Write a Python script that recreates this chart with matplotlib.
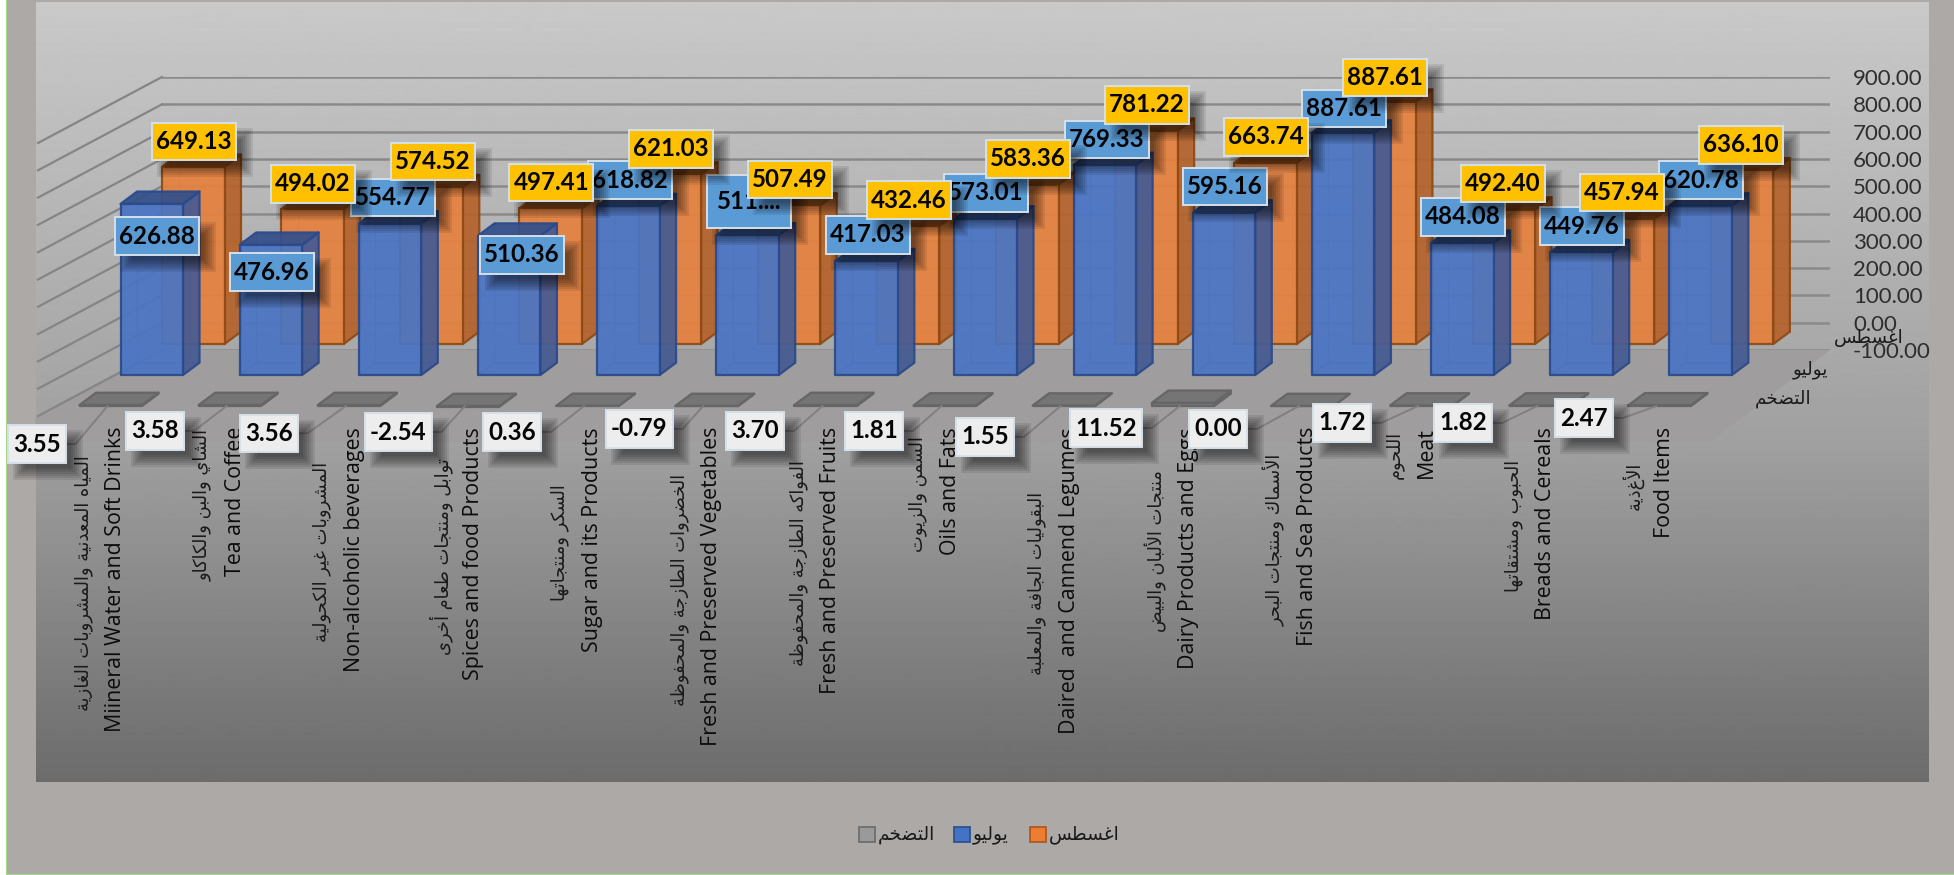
import numpy as np
import matplotlib
matplotlib.use("Agg")
import matplotlib.pyplot as plt
from matplotlib.patches import Polygon, Rectangle

# -----------------------------
# 1. DATA
# -----------------------------
categories_en = ["Miineral Water and Soft Drinks", "Tea and Coffee", "Non-alcoholic beverages",
                 "Spices and food Products", "Sugar and its Products", "Fresh and Preserved Vegetables",
                 "Fresh and Preserved Fruits", "Oils and Fats", "Daired  and Cannend Legumes",
                 "Dairy Products and Eggs", "Fish and Sea Products", "Meat", "Breads and Cereals", "Food Items"]
categories_ar = ["المياه المعدنية والمشروبات الغازية", "الشاي والبن والكاكاو", "المشروبات غير الكحولية",
                 "توابل ومنتجات طعام أخرى", "السكر ومنتجاتها", "الخضروات الطازجة والمحفوظة",
                 "الفواكه الطازجة والمحفوظة", "السمن والزيوت", "البقوليات الجافة والمعلبة",
                 "منتجات الألبان والبيض", "الأسماك ومنتجات البحر", "اللحوم", "الحبوب ومشتقاتها", "الأغذية"]
august = [649.13, 494.02, 574.52, 497.41, 621.03, 507.49, 432.46, 583.36, 781.22, 663.74, 887.61, 492.40, 457.94, 636.10]
july = [626.88, 476.96, 554.77, 510.36, 618.82, 511.53, 417.03, 573.01, 769.33, 595.16, 887.61, 484.08, 449.76, 620.78]
inflation = [3.55, 3.58, 3.56, -2.54, 0.36, -0.79, 3.70, 1.81, 1.55, 11.52, 0.00, 1.72, 1.82, 2.47]
name_august = "اغسطس"
name_july = "يوليو"
name_inflation = "التضخم"
y_ticks = [-100, 0, 100, 200, 300, 400, 500, 600, 700, 800, 900]

# where the data labels were dragged to, in pixels of the picture
august_label_x = [193.5, 313, 432.5, 551.3, 670.6, 790, 909, 1028, 1147, 1266, 1384.6, 1503, 1622, 1741]
august_label_y = [141.3, 183.8, 161.7, 182.7, 149, 179.5, 200, 159, 105, 137, 77.5, 183.7, 192.7, 145]
july_label_x = [156.7, 272, 393, 522, 629.5, 749, 868, 986, 1106.6, 1225, 1344, 1463, 1582, 1701]
july_label_y = [236, 272, 197.7, 255, 180, 201.5, 235, 193, 139.5, 186.3, 108.3, 217, 226, 180]
infl_label_x = [36.6, 155, 268.6, 398, 512, 639, 755, 874, 985, 1106, 1218, 1342, 1463, 1584]
infl_label_y = [444, 431, 433.3, 432, 432, 429, 431, 431, 437, 428, 429, 423, 423, 418]

# -----------------------------
# 2. ARABIC SHAPING (matplotlib does not join letters or run right to left)
# -----------------------------
FORMS = {"أ": (0xFE83, 2), "ا": (0xFE8D, 2), "ب": (0xFE8F, 4), "ة": (0xFE93, 2), "ت": (0xFE95, 4),
         "ج": (0xFE9D, 4), "ح": (0xFEA1, 4), "خ": (0xFEA5, 4), "د": (0xFEA9, 2), "ر": (0xFEAD, 2),
         "ز": (0xFEAF, 2), "س": (0xFEB1, 4), "ش": (0xFEB5, 4), "ض": (0xFEBD, 4), "ط": (0xFEC1, 4),
         "ظ": (0xFEC5, 4), "ع": (0xFEC9, 4), "غ": (0xFECD, 4), "ف": (0xFED1, 4), "ق": (0xFED5, 4),
         "ك": (0xFED9, 4), "ل": (0xFEDD, 4), "م": (0xFEE1, 4), "ن": (0xFEE5, 4), "ه": (0xFEE9, 4),
         "و": (0xFEED, 2), "ى": (0xFEEF, 2), "ي": (0xFEF1, 4)}
LAM_ALEF = {"ا": 0xFEFB, "أ": 0xFEF7}


def shape(text):
    out = []
    i = 0
    prev_joins = False
    while i < len(text):
        c = text[i]
        if c not in FORMS:
            out.append(c)
            prev_joins = False
            i += 1
            continue
        if c == "ل" and i + 1 < len(text) and text[i + 1] in LAM_ALEF:
            out.append(chr(LAM_ALEF[text[i + 1]] + (1 if prev_joins else 0)))
            prev_joins = False
            i += 2
            continue
        base, n = FORMS[c]
        next_joins = n == 4 and i + 1 < len(text) and text[i + 1] in FORMS
        if prev_joins and next_joins:
            g = base + 3
        elif next_joins:
            g = base + 2
        elif prev_joins:
            g = base + 1
        else:
            g = base
        out.append(chr(g))
        prev_joins = n == 4
        i += 1
    return "".join(reversed(out))


# -----------------------------
# 3. FIGURE, BACKGROUND, WALLS
# -----------------------------
W_PX, H_PX = 1954, 875
WALL_L, WALL_R, Y_900, Y_M100 = 162, 1830, 77, 350
PX = (WALL_R - WALL_L) / 14         # pixels per category
PY = (Y_M100 - Y_900) / 1000        # pixels per unit
DEPTH_X, DEPTH_Y = 16.5, 12.3
BAR_W = 62.5 / PX
LABEL_FONT = "Lato"

fig = plt.figure(figsize=(W_PX / 100, H_PX / 100), dpi=100, facecolor="#ADA9A7")
bg = fig.add_axes([0, 0, 1, 1], zorder=0)
bg.set_xlim(0, W_PX)
bg.set_ylim(H_PX, 0)
bg.axis("off")
pix = bg.transData

# white strip and thin green rule of the screenshot
bg.add_patch(Rectangle((0, 0), 6, H_PX, color="white", lw=0))
bg.add_patch(Rectangle((5.5, 0), 1.5, H_PX, color="#A5D88F", lw=0))
bg.add_patch(Rectangle((6, 873.5), W_PX, 2, color="#A5D88F", lw=0))

rows = np.arange(2, 783)
shade = np.interp(rows, [2, 443, 782], [201, 160, 108]) / 255
bg.imshow(shade[:, None], cmap="gray", vmin=0, vmax=1, extent=[35.5, 1928, 782, 2], aspect="auto", zorder=1)
bg.set_xlim(0, W_PX)
bg.set_ylim(H_PX, 0)
bg.add_patch(Polygon([(162, 350), (1830, 350), (1710, 442), (35.5, 442), (35.5, 417)],
                     facecolor="#9F9D9D", edgecolor="none", zorder=2))

ax = fig.add_axes([WALL_L / W_PX, 1 - Y_M100 / H_PX, (WALL_R - WALL_L) / W_PX, (Y_M100 - Y_900) / H_PX], zorder=1)
ax.patch.set_visible(False)
ax.set_xlim(0, 14)
ax.set_ylim(-100, 900)
for s in ax.spines.values():
    s.set_visible(False)
ax.set_xticks([])
ax.yaxis.tick_right()
ax.set_yticks(y_ticks)
ax.set_yticklabels([f"{t:.2f}" for t in y_ticks], fontname=LABEL_FONT, fontsize=16, color="#2E2E2E")
ax.tick_params(axis="y", length=0, pad=16.5)
ax.grid(axis="y", color="#8A8A8A", linewidth=1.8, zorder=1)
ax.set_axisbelow(True)
for t in y_ticks:
    ax.plot([0, -124 / PX], [t, t - 66 / PY], color="#858585", linewidth=1.6, clip_on=False, zorder=1)


# -----------------------------
# 4. THE THREE ROWS OF COLUMNS
# -----------------------------
def column(i, v, dx, drop, face, side, top, edge, z, alpha=0.93):
    x0 = i + dx / PX
    x1 = x0 + BAR_W
    y_hi = max(v, 0) - drop / PY
    y_lo = min(v, 0) - drop / PY
    ox, oy = DEPTH_X / PX, DEPTH_Y / PY
    kw = dict(edgecolor=edge, linewidth=1.6, clip_on=False, zorder=z, joinstyle="round")
    # back edges show through the faces
    ax.plot([x0 + ox, x0 + ox], [y_lo + oy, y_hi + oy], color=edge, lw=1, alpha=0.45, zorder=z, clip_on=False)
    ax.plot([x0, x0 + ox, x1 + ox], [y_lo, y_lo + oy, y_lo + oy], color=edge, lw=1, alpha=0.45, zorder=z, clip_on=False)
    ax.add_patch(Polygon([(x1, y_lo), (x1 + ox, y_lo + oy), (x1 + ox, y_hi + oy), (x1, y_hi)],
                         facecolor=side, alpha=alpha, **kw))
    ax.add_patch(Polygon([(x0, y_hi), (x0 + ox, y_hi + oy), (x1 + ox, y_hi + oy), (x1, y_hi)],
                         facecolor=top, alpha=alpha, **kw))
    ax.add_patch(Polygon([(x0, y_lo), (x1, y_lo), (x1, y_hi), (x0, y_hi)],
                         facecolor=face, alpha=alpha, **kw))


for i in range(14):
    column(i, august[i], 0, 21.3, "#E5813F", "#B5632C", "#8F4A1A", "#8F4A14", 3)
for i in range(14):
    column(i, july[i], -41.5, 52.3, "#4A74C3", "#465B93", "#34508C", "#2A4A8A", 4)
for i in range(14):
    column(i, inflation[i], -82.5, 83.3, "#777777", "#6A6A6A", "#757575", "#666666", 5, alpha=1)


# -----------------------------
# 5. DATA LABELS
# -----------------------------
def value_box(cx, cy, text, fill, z, w=84, h=37.5):
    for k in range(7):
        grow = 6 - 2 * k
        ax.add_patch(Rectangle((cx - w / 2 + 11 - grow, cy - h / 2 + 11 - grow), w + 2 * grow, h + 2 * grow,
                               facecolor="black", edgecolor="none", alpha=0.085, transform=pix, clip_on=False, zorder=z))
    ax.add_patch(Rectangle((cx - w / 2, cy - h / 2), w, h, facecolor=fill, edgecolor="#D5E0E8", linewidth=1.4,
                           transform=pix, clip_on=False, zorder=z + 0.1))
    ax.text(cx, cy, text, transform=pix, ha="center", va="center", fontname=LABEL_FONT, fontsize=17.4,
            fontweight="bold", color="#050505", clip_on=False, zorder=z + 0.2)


for i in range(14):
    text = f"{july[i]:.2f}"
    if i == 5:
        value_box(july_label_x[i], july_label_y[i], "511....", "#5B9BD5", 7, h=53)
    else:
        value_box(july_label_x[i], july_label_y[i], text, "#5B9BD5", 7)
for i in range(14):
    value_box(august_label_x[i], august_label_y[i], f"{august[i]:.2f}", "#FFC000", 8)

renderer = fig.canvas.get_renderer()
to_px = bg.transData.inverted()
for i in range(14):
    x_en = 116 + PX * i
    t = ax.text(x_en, 427, categories_en[i], transform=pix, rotation=90, ha="center", va="top",
                fontname="Open Sans", fontsize=15.4, color="#0C0C0C", clip_on=False, zorder=6)
    box = t.get_window_extent(renderer)
    y_mid = to_px.transform((0, (box.y0 + box.y1) / 2))[1]
    ax.text(x_en - 32.5, y_mid + 3, shape(categories_ar[i]), transform=pix, rotation=90, ha="center", va="center",
            fontname="DejaVu Sans", fontsize=12.9, color="#1A1A1A", clip_on=False, zorder=6)

for i in range(14):
    text = f"{inflation[i]:.2f}"
    w = 58 if len(text) == 4 else (72 if inflation[i] > 0 else 67)
    # leader line from the tile to its label
    tile_x = WALL_L + PX * i - 82.5 + 28
    x_end = infl_label_x[i] + w / 2
    ax.plot([tile_x, x_end + 10, x_end], [406, infl_label_y[i], infl_label_y[i]], color="#808080", lw=1.4,
            transform=pix, clip_on=False, zorder=5.5)
    value_box(infl_label_x[i], infl_label_y[i], text, "#EDEDED", 9, w=w)

# series names on the depth axis
for name, x, y in [(name_august, 1869, 338), (name_july, 1810, 370), (name_inflation, 1783, 399)]:
    ax.text(x, y, shape(name), transform=pix, ha="center", va="center", fontname="DejaVu Sans",
            fontsize=13.2, color="#1A1A1A", clip_on=False, zorder=6)

# -----------------------------
# 6. LEGEND
# -----------------------------
for name, sw, face, edge in [(name_inflation, 859, "#9A9A9A", "#6E6E6E"), (name_july, 954, "#4472C4", "#2F528F"),
                             (name_august, 1030, "#ED7D31", "#AE5A21")]:
    ax.add_patch(Rectangle((sw, 827), 16, 15, facecolor=face, edgecolor=edge, linewidth=1.3,
                           transform=pix, clip_on=False, zorder=6))
    ax.text(sw + 19, 834, shape(name), transform=pix, ha="left", va="center", fontname="DejaVu Sans",
            fontsize=13.4, color="#1A1A1A", clip_on=False, zorder=6)

fig.savefig("out.png", dpi=100, facecolor=fig.get_facecolor())
